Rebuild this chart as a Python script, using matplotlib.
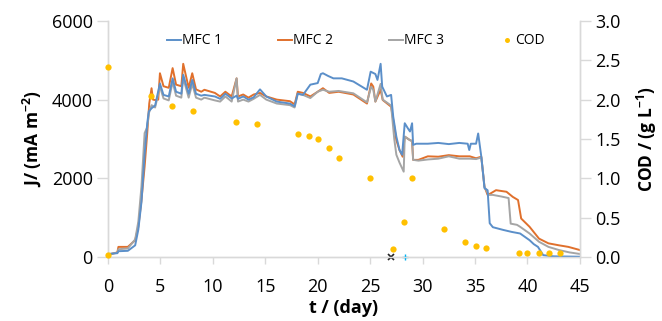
import matplotlib
matplotlib.use("Agg")
import matplotlib.pyplot as plt

plt.rcParams['font.family'] = ['Open Sans', 'DejaVu Sans']
plt.rcParams['mathtext.fontset'] = 'custom'
plt.rcParams['mathtext.rm'] = 'Open Sans'
plt.rcParams['mathtext.bf'] = 'Open Sans:bold'

# ---- data ----
mfc1_t = [0, 0.9, 1.0, 1.9, 2.6, 2.9, 3.2, 3.5, 3.75, 3.9, 4.16, 4.5, 4.96, 5.3, 5.8, 6.17, 6.5, 7.0, 7.18,
          7.7, 8.04, 8.4, 8.9, 9.2, 10.2, 10.7, 11.2, 11.8, 12.27, 12.4, 12.9, 13.4, 13.9, 14.5, 15.1, 16.1,
          17.35, 17.8, 18.1, 18.6, 19.3, 20.0, 20.3, 20.5, 21.0, 21.5, 22.3, 23.4, 24.7, 25.05, 25.5, 25.7,
          26.0, 26.15, 26.6, 27.0, 27.2, 27.5, 27.8, 28.05, 28.3, 28.6, 28.8, 29.0, 29.1, 29.4, 30.5, 31.5,
          32.5, 33.5, 34.3, 34.45, 34.6, 35.1, 35.3, 35.6, 35.8, 35.9, 36.2, 36.4, 36.7, 37.7, 38.5, 39.3,
          40.2, 40.6, 41.0, 41.5, 42.5, 45]
mfc1_j = [80, 100, 150, 160, 300, 700, 1400, 2600, 3400, 3700, 3780, 3850, 4410, 4120, 4080, 4540, 4200, 4150,
          4630, 4150, 4500, 4150, 4100, 4120, 4080, 4020, 4150, 4030, 4100, 4020, 4080, 4000, 4060, 4260, 4080,
          3950, 3900, 3830, 4150, 4120, 4380, 4420, 4650, 4670, 4600, 4540, 4540, 4460, 4250, 4710, 4650, 4500,
          4910, 4330, 4080, 4120, 3570, 3060, 2720, 2600, 3400, 3270, 3190, 3400, 2850, 2880, 2880, 2900,
          2870, 2900, 2880, 2720, 2880, 2880, 3140, 2550, 2040, 1750, 1700, 860, 760, 690, 640, 600,
          430, 330, 260, 50, 20, 10]

mfc2_t = [0, 0.9, 1.0, 1.9, 2.6, 2.9, 3.2, 3.5, 3.75, 3.94, 4.16, 4.3, 4.5, 4.8, 4.96, 5.3, 5.8, 6.17, 6.5,
          7.0, 7.18, 7.7, 8.04, 8.4, 8.9, 9.2, 10.2, 10.7, 11.2, 11.8, 12.27, 12.4, 12.9, 13.4, 13.9, 14.5,
          15.1, 16.1, 17.35, 17.8, 18.1, 18.6, 19.3, 20.0, 20.5, 21.1, 22.0, 23.4, 24.7, 25.1, 25.3, 25.5,
          26.0, 26.2, 27.0, 27.3, 27.5, 27.8, 28.1, 28.3, 28.8, 29.0, 29.1, 29.6, 30.5, 31.5, 32.5, 33.5,
          34.5, 35.1, 35.6, 35.9, 36.2, 36.5, 37.0, 38.0, 38.6, 39.1, 39.4, 40.2, 41.1, 42.0, 43.0, 43.9, 45]
mfc2_j = [60, 120, 260, 260, 430, 770, 1450, 2300, 3150, 3900, 4290, 4000, 3990, 4000, 4670, 4340, 4300, 4800,
          4380, 4340, 4910, 4300, 4670, 4260, 4200, 4250, 4170, 4080, 4200, 4080, 4540, 4080, 4130, 4050, 4130,
          4170, 4080, 4000, 3960, 3880, 4200, 4170, 4080, 4200, 4290, 4170, 4200, 4130, 3900, 4410, 4330, 3950,
          4250, 3990, 3820, 3320, 2970, 2720, 2550, 3060, 2970, 2950, 2470, 2470, 2560, 2550, 2590, 2560,
          2560, 2510, 2550, 1790, 1580, 1620, 1700, 1660, 1530, 1450, 980, 770, 470, 350, 300, 260, 180]

mfc3_t = [0, 0.9, 1.0, 1.9, 2.6, 2.9, 3.2, 3.5, 3.75, 3.9, 4.16, 4.5, 4.96, 5.3, 5.8, 6.17, 6.5, 7.0, 7.18,
          7.7, 8.04, 8.4, 8.9, 9.2, 10.2, 10.7, 11.2, 11.8, 12.27, 12.4, 12.9, 13.4, 13.9, 14.5, 15.1, 16.1,
          17.35, 17.8, 18.1, 18.6, 19.3, 20.0, 20.5, 21.1, 22.0, 23.4, 24.7, 25.1, 25.3, 25.5, 26.0, 26.2,
          27.0, 27.3, 27.5, 27.8, 28.2, 28.3, 28.8, 29.0, 29.1, 29.6, 30.5, 31.5, 32.5, 33.5, 34.5, 35.1,
          35.6, 35.9, 36.3, 36.7, 37.5, 38.2, 38.4, 39.0, 39.3, 40.2, 41.1, 42.0, 43.0, 44.0, 45]
mfc3_j = [70, 110, 200, 220, 450, 900, 1800, 3150, 3300, 3650, 3860, 3800, 4330, 4030, 3980, 4450, 4100, 4050,
          4550, 4050, 4400, 4050, 4000, 4050, 3980, 3950, 4080, 3950, 4540, 3950, 4000, 3950, 4020, 4120, 4000,
          3900, 3860, 3800, 4150, 4120, 4040, 4200, 4250, 4200, 4220, 4160, 3930, 4330, 4250, 3950, 4400, 4000,
          3850, 3000, 2600, 2400, 2170, 3060, 2970, 2950, 2470, 2450, 2480, 2500, 2560, 2500, 2500, 2490,
          2530, 1790, 1580, 1580, 1540, 1500, 850, 820, 770, 600, 390, 260, 180, 120, 80]

cod_t = [0, 0, 4.1, 6.1, 8.1, 12.2, 14.2, 18.1, 19.2, 20.0, 21.1, 22.0, 25.0, 27.2, 28.2, 29.0,
         32.0, 34.0, 35.1, 36.0, 39.2, 40.0, 41.1, 42.1, 43.1]
cod_v = [2.41, 0.03, 2.04, 1.92, 1.86, 1.72, 1.69, 1.56, 1.54, 1.50, 1.39, 1.26, 1.00, 0.10, 0.44, 1.00,
         0.36, 0.19, 0.14, 0.11, 0.05, 0.05, 0.05, 0.05, 0.05]

mark_x_t = [27.0]
mark_plus_t = [28.3]

x_ticks = [0, 5, 10, 15, 20, 25, 30, 35, 40, 45]
j_ticks = [0, 2000, 4000, 6000]
cod_ticks = [0.0, 0.5, 1.0, 1.5, 2.0, 2.5, 3.0]

# ---- figure ----
fig = plt.figure(figsize=(6.62, 3.21), dpi=100)
ax = fig.add_axes([0.163, 0.199, 0.713, 0.736])
ax2 = ax.twinx()

c1, c2, c3, cc = '#5B8FC9', '#E0702C', '#A5A5A5', '#FFC000'
l1, = ax.plot(mfc1_t, mfc1_j, color=c1, lw=1.4, label='MFC 1', zorder=3)
l2, = ax.plot(mfc2_t, mfc2_j, color=c2, lw=1.4, label='MFC 2', zorder=2)
l3, = ax.plot(mfc3_t, mfc3_j, color=c3, lw=1.4, label='MFC 3', zorder=2.5)
ax.plot(mark_x_t, [0] * len(mark_x_t), 'x', color='#222222', ms=4, mew=1.2, clip_on=False, zorder=5)
ax.plot(mark_plus_t, [0] * len(mark_plus_t), '+', color='#00B0F0', ms=5, mew=1.0, clip_on=False, zorder=5)

sc, = ax2.plot(cod_t, cod_v, 'o', color=cc, ms=4.5, mec='none', label='COD', clip_on=False, zorder=4)

ax.set_xlim(0, 45)
ax.set_ylim(0, 6000)
ax2.set_ylim(0, 3.0)
ax.set_xticks(x_ticks)
ax.set_yticks(j_ticks)
ax2.set_yticks(cod_ticks)
ax2.set_yticklabels([f'{v:.1f}' for v in cod_ticks])

spc = '#D9D9D9'
for a in (ax, ax2):
    a.spines['top'].set_visible(False)
    for s in ('left', 'right', 'bottom'):
        a.spines[s].set_color(spc)
        a.spines[s].set_linewidth(1.0)
    a.tick_params(colors=spc, labelcolor='black', labelsize=13, width=1.0)
ax.tick_params(axis='y', length=8, pad=3)
ax.tick_params(axis='x', length=5, pad=10)
ax2.tick_params(axis='y', length=8, pad=3)

ax.set_xlabel('t / (day)', fontsize=13, fontweight='bold', labelpad=2)
ax.set_ylabel(r'J/ (mA m$^{\mathbf{-2}}$)', fontsize=12.5, fontweight='bold', labelpad=6)
ax2.set_ylabel(r'COD / (g L$^{\mathbf{-1}}$)', fontsize=12.5, fontweight='bold', labelpad=10)

ax2.legend([l1, l2, l3, sc], ['MFC 1', 'MFC 2', 'MFC 3', 'COD'], ncol=4, frameon=False,
           loc='upper center', bbox_to_anchor=(0.525, 1.0), fontsize=10, handlelength=1.0,
           handletextpad=0.1, columnspacing=4.0, markerscale=0.8)

fig.savefig('out.png', dpi=100)
